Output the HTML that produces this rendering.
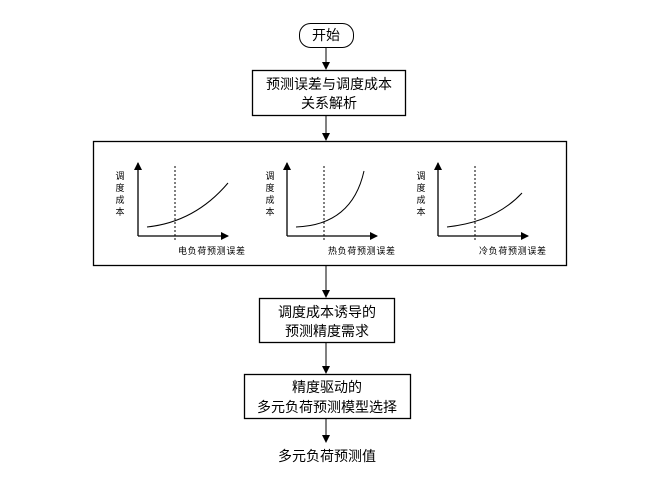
<!DOCTYPE html>
<html><head><meta charset="utf-8"><style>
body{margin:0;background:#fff}
svg text{font-family:"Liberation Sans","Noto Sans CJK SC",sans-serif;fill:#000}
</style></head><body>
<svg width="651" height="489" viewBox="0 0 651 489" xmlns="http://www.w3.org/2000/svg">
<defs><marker id="a" markerWidth="8" markerHeight="8" refX="7" refY="4" orient="auto" markerUnits="userSpaceOnUse"><path d="M0,0 L8,4 L0,8 z" fill="#000"/></marker></defs>
<g stroke="#000" fill="none" stroke-width="1">
<rect x="299.5" y="23.5" width="54" height="24" rx="11" fill="#fff"/>
<line x1="326" y1="48" x2="326" y2="69" marker-end="url(#a)"/>
<rect x="252.5" y="70.5" width="153" height="45" stroke-width="1.3"/>
<line x1="326" y1="116" x2="326" y2="140" marker-end="url(#a)"/>
<rect x="93.5" y="141.5" width="473" height="124" stroke-width="1.3"/>
<line x1="326" y1="266" x2="326" y2="297" marker-end="url(#a)"/>
<rect x="259.5" y="298.5" width="135" height="44" stroke-width="1.3"/>
<line x1="326" y1="343" x2="326" y2="373" marker-end="url(#a)"/>
<rect x="244.5" y="374.5" width="166" height="44" stroke-width="1.3"/>
<line x1="326" y1="419" x2="326" y2="442" marker-end="url(#a)"/>
<!-- charts -->
<g stroke-width="1.3">
<line x1="138" y1="236" x2="138" y2="163" marker-end="url(#a)"/>
<line x1="138" y1="236" x2="228" y2="236" marker-end="url(#a)"/>
<line x1="287" y1="236" x2="287" y2="163" marker-end="url(#a)"/>
<line x1="287" y1="236" x2="377" y2="236" marker-end="url(#a)"/>
<line x1="438" y1="236" x2="438" y2="163" marker-end="url(#a)"/>
<line x1="438" y1="236" x2="528" y2="236" marker-end="url(#a)"/>
</g>
<g stroke-dasharray="2,2"><line x1="175" y1="166" x2="175" y2="241"/><line x1="324" y1="166" x2="324" y2="241"/><line x1="475" y1="166" x2="475" y2="241"/></g>
<path d="M147,227 Q195,222 228,183"/>
<path d="M296,227 Q352,225 364,171"/>
<path d="M447,227 Q495,222 522,193"/>
</g>
<g font-size="14" text-anchor="middle">
<text x="326" y="40">开始</text>
<text x="329" y="89">预测误差与调度成本</text>
<text x="329" y="108">关系解析</text>
<text x="327" y="317">调度成本诱导的</text>
<text x="327" y="336">预测精度需求</text>
<text x="327" y="392">精度驱动的</text>
<text x="327" y="412">多元负荷预测模型选择</text>
<text x="327" y="461">多元负荷预测值</text>
</g>
<g font-size="9">
<text x="120" y="179" text-anchor="middle">调</text><text x="120" y="191" text-anchor="middle">度</text><text x="120" y="203" text-anchor="middle">成</text><text x="120" y="215" text-anchor="middle">本</text>
<text x="270" y="179" text-anchor="middle">调</text><text x="270" y="191" text-anchor="middle">度</text><text x="270" y="203" text-anchor="middle">成</text><text x="270" y="215" text-anchor="middle">本</text>
<text x="421" y="179" text-anchor="middle">调</text><text x="421" y="191" text-anchor="middle">度</text><text x="421" y="203" text-anchor="middle">成</text><text x="421" y="215" text-anchor="middle">本</text>
<text x="178" y="254" textLength="67">电负荷预测误差</text>
<text x="328" y="254" textLength="67">热负荷预测误差</text>
<text x="479" y="254" textLength="67">冷负荷预测误差</text>
</g>
</svg>
</body></html>
